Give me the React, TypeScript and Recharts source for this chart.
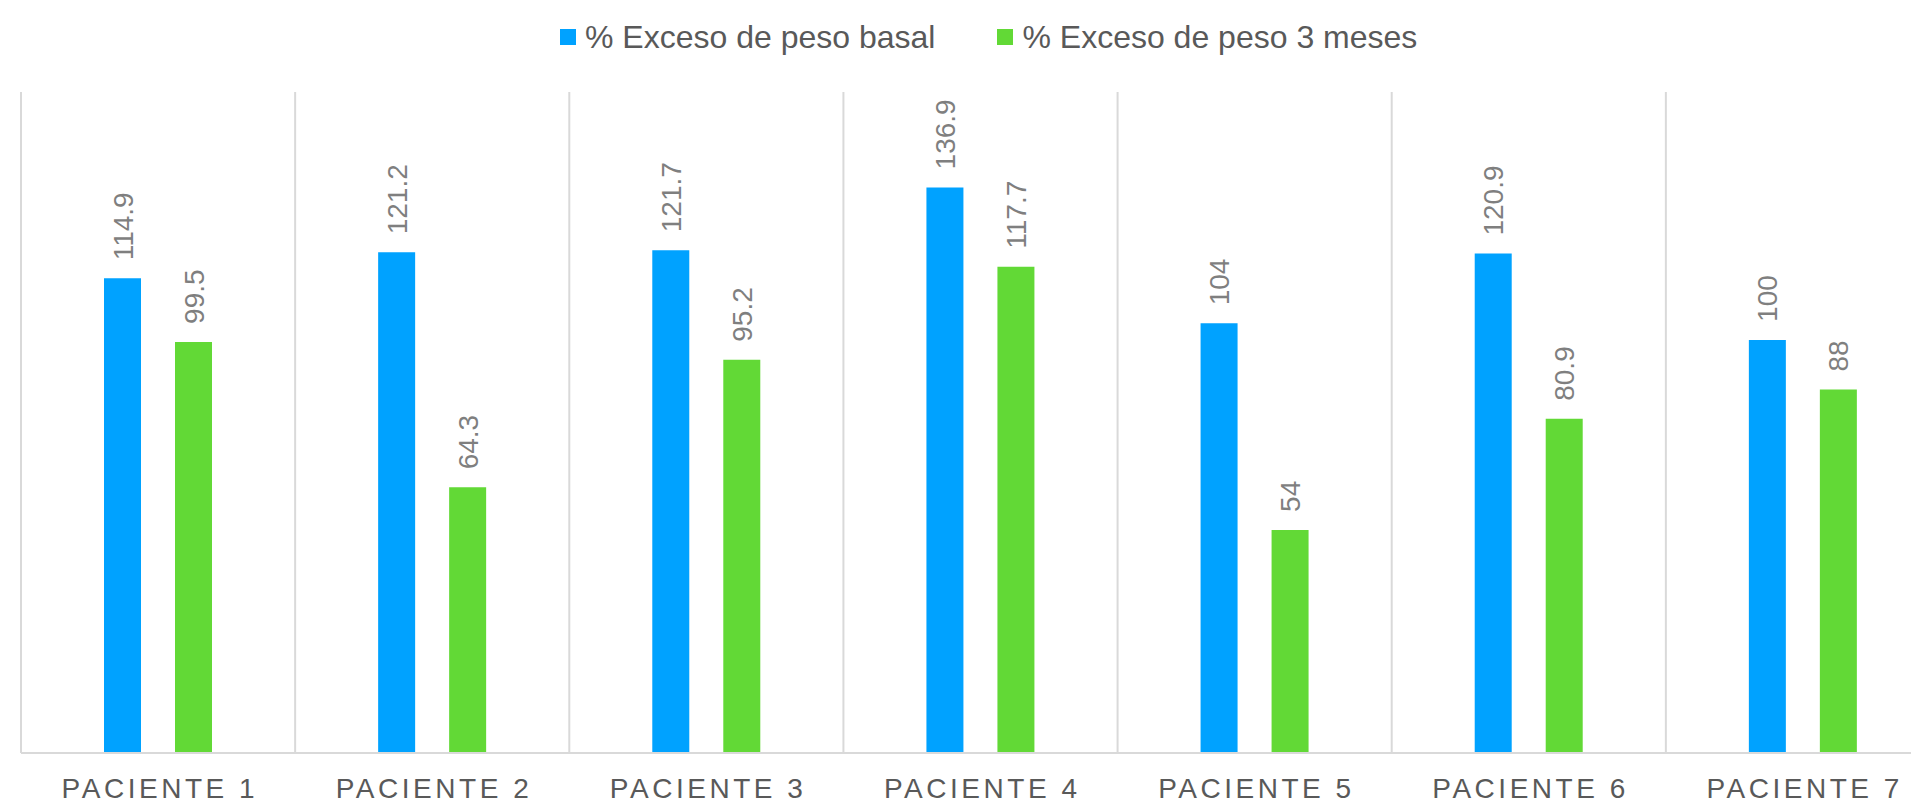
import React from 'react';
import { BarChart, Bar, XAxis, YAxis, CartesianGrid, Legend, LabelList } from 'recharts';

const categories = ['PACIENTE 1', 'PACIENTE 2', 'PACIENTE 3', 'PACIENTE 4', 'PACIENTE 5', 'PACIENTE 6', 'PACIENTE 7'];
const basal = [114.9, 121.2, 121.7, 136.9, 104, 120.9, 100];
const tresMeses = [99.5, 64.3, 95.2, 117.7, 54, 80.9, 88];
const seriesNames = ['% Exceso de peso basal', '% Exceso de peso 3 meses'];

const data = categories.map((name, i) => ({ name, basal: basal[i], tresMeses: tresMeses[i] }));

const FONT = "Arial, 'Liberation Sans', sans-serif";

const CategoryTick = ({ x, y, payload }: any) => (
  <text
    x={x}
    y={y}
    dy={44.5}
    textAnchor="middle"
    fill="#595959"
    fontSize={28}
    textLength={193}
    lengthAdjust="spacing"
    fontFamily={FONT}
  >
    {payload.value}
  </text>
);

const renderValue = (props: any) => {
  const { x, y, width, value } = props;
  const cx = Number(x) + Number(width) / 2;
  const ty = Number(y) - 18;
  return (
    <text
      x={cx}
      y={ty}
      dy="0.36em"
      transform={`rotate(-90, ${cx}, ${ty})`}
      textAnchor="start"
      fill="#7f7f7f"
      fontSize={28}
      fontFamily={FONT}
    >
      {value}
    </text>
  );
};

const renderLegend = ({ payload }: any) => {
  const items = [...(payload || [])].sort(
    (a: any, b: any) => seriesNames.indexOf(a.value) - seriesNames.indexOf(b.value)
  );
  return (
    <div style={{ display: 'flex', alignItems: 'center', fontFamily: FONT }}>
      {items.map((entry: any, i: number) => (
        <div
          key={entry.value}
          style={{ display: 'flex', alignItems: 'center', marginLeft: i === 0 ? 0 : 62, height: 32 }}
        >
          <span style={{ width: 16, height: 16, background: entry.color, display: 'inline-block', marginRight: 9 }} />
          <span style={{ fontSize: 32, lineHeight: 1, color: '#595959', whiteSpace: 'nowrap' }}>{entry.value}</span>
        </div>
      ))}
    </div>
  );
};

export default function App() {
  return (
    <div
      style={{
        position: 'fixed',
        left: 0,
        top: 0,
        width: 1911,
        height: 801,
        overflow: 'hidden',
        background: '#ffffff',
      }}
    >
      <BarChart
        width={1940}
        height={801}
        data={data}
        margin={{ top: 92, right: 0, left: 21, bottom: 0 }}
        barSize={37}
        barGap={34}
      >
        <CartesianGrid
          horizontal={false}
          stroke="#d9d9d9"
          strokeWidth={2}
          verticalCoordinatesGenerator={({ offset }: any) =>
            [...categories, ''].map((_, i) => offset.left + (i * offset.width) / categories.length)
          }
        />
        <XAxis
          dataKey="name"
          height={48}
          tickLine={false}
          tickSize={0}
          tickMargin={0}
          axisLine={{ stroke: '#d9d9d9', strokeWidth: 2 }}
          tick={<CategoryTick />}
          interval={0}
        />
        <YAxis hide domain={[0, 160]} />
        <Legend
          layout="horizontal"
          verticalAlign="middle"
          align="center"
          content={renderLegend}
          wrapperStyle={{ top: 21, left: 560, width: 'auto', height: 'auto' }}
        />
        <Bar dataKey="basal" name={seriesNames[0]} fill="#00a2ff" isAnimationActive={false}>
          <LabelList dataKey="basal" content={renderValue} />
        </Bar>
        <Bar dataKey="tresMeses" name={seriesNames[1]} fill="#62d936" isAnimationActive={false}>
          <LabelList dataKey="tresMeses" content={renderValue} />
        </Bar>
      </BarChart>
    </div>
  );
}
